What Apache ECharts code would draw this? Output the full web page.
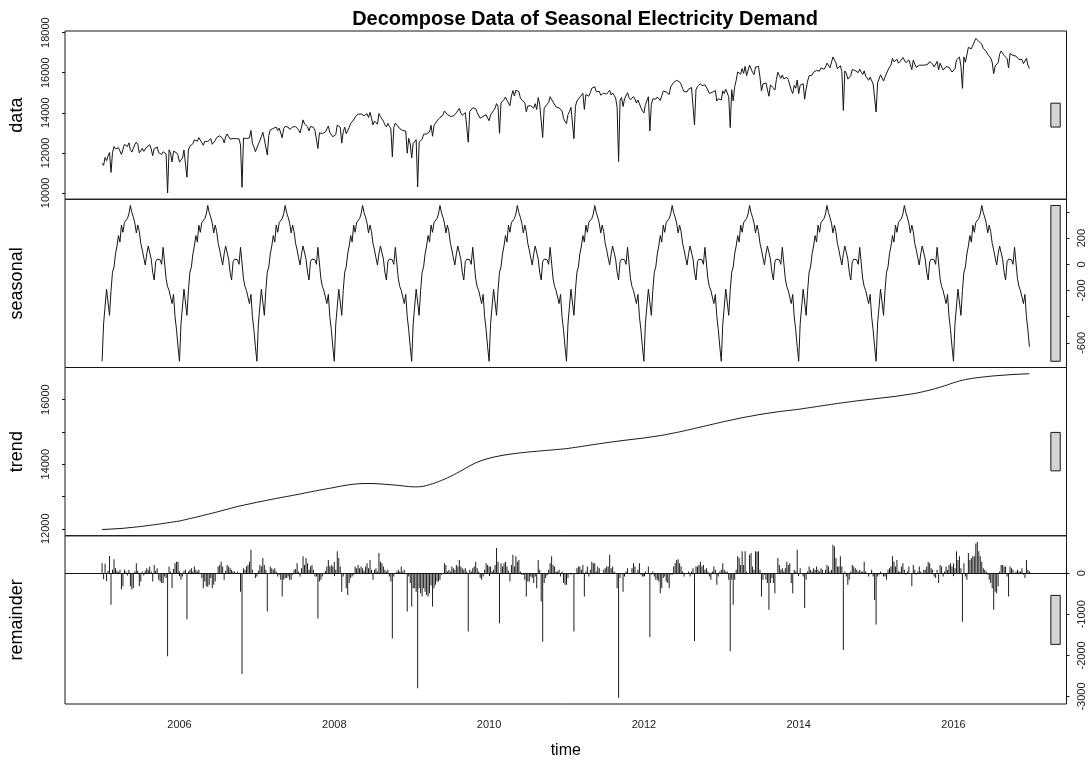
<!DOCTYPE html>
<html>
<head>
<meta charset="utf-8">
<title>Decompose Data of Seasonal Electricity Demand</title>
<script src="https://cdn.jsdelivr.net/npm/echarts@6/dist/echarts.min.js"></script>
<style>
  html, body { margin: 0; padding: 0; background: #ffffff; }
  #chart { width: 1091px; height: 761px; }
</style>
</head>
<body>
<div id="chart"></div>
<script>
// Weekly electricity demand, 52 observations per year, first week of 2005 onwards.
const startYear = 2005;
const frequency = 52;

// One full cycle of the periodic seasonal component (week 1 .. week 52).
const seasonalCycle = [
  -741, -455, -440, -190, -200, -390, -200, -60, -20, 80, 140, 220, 170,
  300, 245, 320, 335, 350, 385, 450, 395, 360, 315, 240, 300, 250,
  160, 110, 50, -5, 80, 140, 135, 40, -60, -120, 20, 40, 30,
  35, 0, 130, 10, -110, -170, -200, -250, -300, -230, -400, -500, -630
];

// Trend component, one line per quarter, four lines per year (2005 .. 2016).
const trend = [
  11977, 11979, 11981, 11984, 11986, 11989, 11991, 11994, 11997, 11999, 12002, 12005, 12007,
  12010, 12014, 12019, 12023, 12028, 12033, 12037, 12042, 12047, 12051, 12056, 12061, 12065,
  12070, 12076, 12082, 12088, 12095, 12101, 12107, 12113, 12119, 12125, 12131, 12138, 12144,
  12150, 12157, 12164, 12171, 12178, 12185, 12192, 12199, 12206, 12212, 12219, 12226, 12233,

  12240, 12251, 12262, 12272, 12283, 12294, 12305, 12315, 12326, 12337, 12348, 12358, 12369,
  12380, 12392, 12403, 12415, 12426, 12438, 12449, 12461, 12472, 12484, 12495, 12507, 12518,
  12530, 12542, 12555, 12567, 12579, 12592, 12604, 12616, 12628, 12641, 12653, 12665, 12678,
  12690, 12700, 12710, 12720, 12730, 12740, 12750, 12760, 12770, 12780, 12790, 12800, 12810,

  12820, 12829, 12838, 12848, 12857, 12866, 12875, 12885, 12894, 12903, 12912, 12922, 12931,
  12940, 12948, 12957, 12965, 12974, 12982, 12991, 12999, 13008, 13016, 13025, 13033, 13042,
  13050, 13059, 13068, 13078, 13087, 13096, 13105, 13115, 13124, 13133, 13142, 13152, 13161,
  13170, 13178, 13187, 13195, 13204, 13212, 13221, 13229, 13238, 13246, 13255, 13263, 13272,

  13280, 13290, 13299, 13308, 13317, 13325, 13333, 13341, 13348, 13355, 13362, 13368, 13374,
  13380, 13385, 13389, 13393, 13396, 13398, 13400, 13401, 13402, 13402, 13402, 13401, 13401,
  13400, 13398, 13396, 13394, 13391, 13388, 13385, 13382, 13378, 13375, 13371, 13368, 13364,
  13360, 13356, 13351, 13347, 13342, 13337, 13332, 13327, 13322, 13317, 13312, 13308, 13304,

  13300, 13298, 13297, 13297, 13298, 13300, 13304, 13310, 13318, 13328, 13340, 13353, 13366,
  13380, 13395, 13410, 13426, 13443, 13460, 13478, 13497, 13516, 13536, 13556, 13577, 13598,
  13620, 13643, 13667, 13691, 13716, 13741, 13766, 13791, 13816, 13842, 13868, 13894, 13922,
  13950, 13974, 13997, 14019, 14040, 14060, 14079, 14097, 14114, 14130, 14145, 14159, 14172,

  14184, 14196, 14207, 14218, 14228, 14238, 14247, 14256, 14265, 14273, 14281, 14289, 14296,
  14303, 14310, 14316, 14322, 14328, 14334, 14340, 14345, 14350, 14355, 14360, 14365, 14370,
  14375, 14380, 14384, 14388, 14392, 14396, 14400, 14404, 14408, 14412, 14416, 14420, 14424,
  14428, 14432, 14436, 14440, 14444, 14448, 14452, 14456, 14460, 14464, 14468, 14472, 14476,

  14480, 14487, 14494, 14501, 14508, 14515, 14522, 14529, 14535, 14542, 14549, 14556, 14563,
  14570, 14577, 14584, 14591, 14598, 14605, 14612, 14619, 14625, 14632, 14639, 14646, 14653,
  14660, 14666, 14672, 14678, 14685, 14691, 14697, 14703, 14709, 14715, 14722, 14728, 14734,
  14740, 14745, 14751, 14756, 14762, 14767, 14772, 14778, 14783, 14789, 14794, 14799, 14805,

  14810, 14817, 14824, 14831, 14838, 14845, 14852, 14858, 14865, 14872, 14879, 14886, 14893,
  14900, 14909, 14918, 14928, 14937, 14946, 14955, 14965, 14974, 14983, 14992, 15002, 15011,
  15020, 15031, 15042, 15052, 15063, 15074, 15085, 15095, 15106, 15117, 15128, 15138, 15149,
  15160, 15171, 15182, 15192, 15203, 15214, 15225, 15235, 15246, 15257, 15268, 15278, 15289,

  15300, 15310, 15320, 15330, 15340, 15350, 15360, 15370, 15380, 15390, 15400, 15410, 15420,
  15430, 15438, 15447, 15455, 15464, 15472, 15481, 15489, 15498, 15506, 15515, 15523, 15532,
  15540, 15547, 15554, 15561, 15568, 15575, 15582, 15588, 15595, 15602, 15609, 15616, 15623,
  15630, 15635, 15641, 15646, 15652, 15657, 15662, 15668, 15673, 15679, 15684, 15689, 15695,

  15700, 15707, 15714, 15721, 15728, 15735, 15742, 15748, 15755, 15762, 15769, 15776, 15783,
  15790, 15797, 15804, 15811, 15818, 15825, 15832, 15838, 15845, 15852, 15859, 15866, 15873,
  15880, 15886, 15892, 15898, 15905, 15911, 15917, 15923, 15929, 15935, 15942, 15948, 15954,
  15960, 15965, 15971, 15976, 15982, 15987, 15992, 15998, 16003, 16009, 16014, 16019, 16025,

  16030, 16035, 16041, 16046, 16052, 16057, 16062, 16068, 16073, 16079, 16084, 16089, 16095,
  16100, 16107, 16114, 16121, 16128, 16135, 16142, 16148, 16155, 16162, 16169, 16176, 16183,
  16190, 16199, 16208, 16218, 16228, 16238, 16249, 16260, 16271, 16282, 16294, 16306, 16318,
  16330, 16343, 16356, 16370, 16384, 16398, 16413, 16428, 16443, 16458, 16474, 16490, 16505,

  16520, 16535, 16549, 16563, 16576, 16588, 16599, 16610, 16620, 16629, 16637, 16645, 16653,
  16660, 16667, 16673, 16679, 16685, 16690, 16695, 16700, 16705, 16710, 16715, 16720, 16725,
  16730, 16734, 16737, 16741, 16744, 16748, 16751, 16755, 16758, 16762, 16765, 16768, 16772,
  16775, 16777, 16780, 16782, 16784, 16786, 16789, 16791, 16793, 16795, 16797, 16799, 16801
];

// Remainder component, one line per year (2005 .. 2016).
const remainder = [
  240, -150, 230, -190, 60, 420, -770, 80, 340, 120, 60, 30, 80, -390, -320, 80, 40, -60, 80, -320, -400, -360, 40, 240, 60, -320, -200, 40, -60, 60, 120, 80, 160, 40, -200, 200, 60, 120, -160, -200, -240, -240, -80, -120, -2020, 160, 40, -360, 100, 240, 280, 280,
  40, -160, -80, 60, 80, -1120, 40, 80, 120, 40, 160, 80, 40, 80, 0, -120, -370, -200, -320, -330, -280, -120, -370, -280, -200, 0, 160, 200, 280, 160, -160, 60, 200, 160, 120, 80, 40, 40, 0, 40, 0, -450, -2450, 120, 80, 160, 200, 280, 570, 80, 0, -120,
  -80, 60, 200, 160, 370, 200, 80, -930, 0, 160, 120, 80, 120, 40, -80, -40, -160, -570, -160, -120, -120, -80, -160, -160, -40, 80, 100, 240, 40, -80, 120, 410, 200, 370, 240, 80, 160, 200, 80, -80, -80, -1100, -200, -160, -80, 0, 60, 160, 320, 160, 200, 160,
  280, 80, 530, 370, 160, -450, -80, 0, -370, -530, -240, -120, -80, -40, 160, 120, 200, 120, 160, 120, 60, 160, 240, 120, 320, 80, -160, 80, 120, 40, 490, 280, 240, 160, 80, 40, 80, -80, -200, -1590, -80, 0, 40, 80, 40, 160, 40, 80, 0, -930, -80, -240,
  -810, -370, -370, -450, -2800, -370, -490, -570, -370, -450, -530, -570, -490, -300, -810, -370, -280, -200, -200, -160, -40, 0, 240, 200, 40, 80, 40, 160, 120, 80, 200, 160, 320, 160, 120, 80, 120, 40, -1420, 80, 40, 120, 160, 280, 120, 40, -120, -160, -80, 80, 240, 200,
  160, 160, 40, 80, 200, 610, 280, -1220, 240, 160, 240, 280, 160, 60, -200, 200, 450, 160, 410, 280, 320, 40, -40, -40, -160, -570, -200, -200, -80, -120, -240, -80, -370, 320, 80, -690, -1670, -240, -120, -60, 80, 240, 410, 200, 160, 40, 40, 80, -80, 40, -240, -280,
  -280, -120, 0, -40, 0, -1420, 0, 120, 160, 160, 80, 200, -570, 40, 160, -80, 80, 280, 240, 240, 40, 160, 120, 0, 0, 80, 120, 160, 160, 450, 120, 160, 40, 0, -370, -3030, -120, 0, -450, -80, 40, 120, 0, 0, 120, 240, 160, 0, 80, 240, -40, -80,
  -80, 40, 0, 160, -1550, -40, 40, -80, -160, -160, -200, -490, -370, -120, -80, -200, -240, -370, -40, -40, 160, 240, 320, 340, 240, 160, 40, -80, 0, 0, 40, -80, 40, 120, -1650, 160, 160, 200, 280, 160, 200, 80, 120, 40, -80, -160, 40, 160, 80, -280, -80, 40,
  80, 240, 80, 40, 40, -160, -1900, -160, -770, -160, 80, 410, 370, 200, 530, 200, 530, 40, 0, 450, 490, 160, 80, 530, 520, 530, 80, -570, -160, -40, -160, -240, -890, -240, -120, -240, -490, 0, 370, 200, 80, 120, 40, 120, 280, 200, 240, -240, -490, 80, 40, 570,
  0, 120, 0, -80, -850, -160, 40, 160, 80, 40, 120, 80, 160, 80, 40, 120, 80, 0, 80, 200, 160, 40, 80, 690, 650, 370, 160, 160, 410, 160, -1870, 40, -80, -280, -160, 40, 200, 160, 120, 80, 40, 80, 40, 40, 280, 40, 0, -80, 0, 80, -80, -650,
  -1250, -80, -40, 40, 0, -80, -80, -160, 80, 120, 160, 410, 280, 160, 320, 40, 40, 160, 240, 80, -40, 40, 160, 0, -320, 200, 80, -40, 40, 160, 40, 0, 80, 80, 160, 280, 240, 120, 80, -80, -120, 80, -240, 200, 160, -80, 40, 160, 80, 200, 240, 160,
  240, 120, 530, 320, 410, 120, -1180, 240, -80, -160, 490, 320, 370, 410, 410, 720, 758, 530, 410, 280, 120, 80, 40, -40, -160, -240, -370, -890, -450, -490, -320, 40, 200, 200, 160, 160, -80, -570, 160, 120, 80, 0, 40, 80, 40, 40, 120, -40, -120, 320, 80, 40
];

// Panel names and axis ticks.
const titleText = 'Decompose Data of Seasonal Electricity Demand';
const panelNames = ['data', 'seasonal', 'trend', 'remainder'];
const timeTicks = [2006, 2008, 2010, 2012, 2014, 2016];
const dataTicks = [10000, 12000, 14000, 16000, 18000];
const dataTickLabels = [10000, 12000, 14000, 16000, 18000];
const seasonalTicks = [-600, -400, -200, 0, 200, 400];
const seasonalTickLabels = [-600, -200, 0, 200];
const trendTicks = [12000, 13000, 14000, 15000, 16000];
const trendTickLabels = [12000, 14000, 16000];
const remainderTicks = [-3000, -2000, -1000, 0];
const remainderTickLabels = [-3000, -2000, -1000, 0];

// ---- derived series: the data panel is the sum of the three components ----
const n = Math.min(trend.length, remainder.length);
const time = [];
for (let i = 0; i < n; i++) time.push(startYear + i / frequency);
const seasonal = time.map((_, i) => seasonalCycle[i % frequency]);
const trendS = trend.slice(0, n);
const remainderS = remainder.slice(0, n);
const data = time.map((_, i) => trendS[i] + seasonal[i] + remainderS[i]);
const components = [data, seasonal, trendS, remainderS];

// Axis extents padded by 4% on each side.
function padded(values) {
  let lo = Infinity, hi = -Infinity;
  for (const v of values) { if (v < lo) lo = v; if (v > hi) hi = v; }
  const r = hi - lo;
  return { lo, hi, min: lo - 0.04 * r, max: hi + 0.04 * r };
}
const xExt = padded([time[0], time[n - 1]]);
const yExt = components.map(padded);

// Range bars: every bar spans the smallest component range.
const minRange = Math.min(...yExt.map(e => e.hi - e.lo));
const dx = (xExt.max - xExt.min) / 64;

// ---- layout ----
const FONT = '"Liberation Sans", Arial, Helvetica, sans-serif';
const plotLeft = 65;
const plotWidth = 1001.5;
const firstTop = 31;
const panelHeight = 168.25;
const panelTops = [0, 1, 2, 3].map(k => firstTop + k * panelHeight);
const axisSides = ['left', 'right', 'left', 'right'];
const tickSets = [dataTicks, seasonalTicks, trendTicks, remainderTicks];
const labelSets = [dataTickLabels, seasonalTickLabels, trendTickLabels, remainderTickLabels];
const ink = '#161616';

const grids = panelTops.map(top => ({
  left: plotLeft, top: top, width: plotWidth, height: panelHeight,
  show: true, borderColor: ink, borderWidth: 1, backgroundColor: 'transparent',
  containLabel: false, outerBoundsMode: 'none'
}));

const xAxes = panelTops.map((_, k) => {
  const bottom = k === panelTops.length - 1;
  return {
    type: 'value', gridIndex: k, min: xExt.min, max: xExt.max,
    axisLine: { show: false },
    splitLine: { show: false },
    axisTick: { show: bottom, customValues: timeTicks, length: 3, lineStyle: { color: ink, width: 1 } },
    axisLabel: {
      show: bottom, customValues: timeTicks, margin: 15,
      fontFamily: FONT, fontSize: 11, color: '#222',
      formatter: v => String(Math.round(v))
    }
  };
});

const yAxes = panelTops.map((_, k) => ({
  type: 'value', gridIndex: k, position: axisSides[k],
  min: yExt[k].min, max: yExt[k].max,
  axisLine: { show: false },
  splitLine: { show: false },
  axisTick: { show: true, customValues: tickSets[k], length: 3, lineStyle: { color: ink, width: 1 } },
  axisLabel: {
    show: true, customValues: labelSets[k], rotate: 90,
    margin: axisSides[k] === 'left' ? 14 : 10,
    fontFamily: FONT, fontSize: 11, color: '#222',
    formatter: v => String(Math.round(v))
  }
}));

function rangeBar(k) {
  const mid = (yExt[k].lo + yExt[k].hi) / 2;
  return {
    silent: true,
    label: { show: false },
    itemStyle: { color: '#d3d3d3', borderColor: ink, borderWidth: 1 },
    data: [[
      { coord: [xExt.max - dx, mid - minRange / 2] },
      { coord: [xExt.max - 0.4 * dx, mid + minRange / 2] }
    ]]
  };
}

const pairs = k => time.map((t, i) => [t, components[k][i]]);

const series = [0, 1, 2].map(k => ({
  type: 'line', xAxisIndex: k, yAxisIndex: k,
  data: pairs(k),
  showSymbol: false, symbol: 'none', silent: true,
  lineStyle: { color: ink, width: 1 },
  emphasis: { disabled: true },
  markArea: rangeBar(k)
}));

series.push({
  type: 'bar', xAxisIndex: 3, yAxisIndex: 3,
  data: pairs(3),
  barWidth: 1, silent: true,
  itemStyle: { color: '#1e1e1e' },
  emphasis: { disabled: true },
  markArea: rangeBar(3),
  markLine: {
    silent: true, symbol: 'none', animation: false,
    label: { show: false },
    lineStyle: { color: ink, width: 1, type: 'solid' },
    data: [{ yAxis: 0 }]
  }
});

const graphic = [
  {
    type: 'text', x: 585, y: 19, silent: true,
    style: { text: titleText, font: 'bold 20px ' + FONT, fill: '#000', textAlign: 'center', textVerticalAlign: 'middle' }
  },
  {
    type: 'text', x: plotLeft + plotWidth / 2, y: 751, silent: true,
    style: { text: 'time', font: '16px ' + FONT, fill: '#000', textAlign: 'center', textVerticalAlign: 'middle' }
  }
].concat(panelNames.map((name, k) => ({
  type: 'text', x: 17.5, y: panelTops[k] + panelHeight / 2, rotation: Math.PI / 2, silent: true,
  style: { text: name, font: '18px ' + FONT, fill: '#000', textAlign: 'center', textVerticalAlign: 'middle' }
})));

const chart = echarts.init(document.getElementById('chart'), null, { renderer: 'canvas' });
chart.setOption({
  animation: false,
  backgroundColor: '#ffffff',
  grid: grids,
  xAxis: xAxes,
  yAxis: yAxes,
  series: series,
  graphic: graphic
});
</script>
</body>
</html>
